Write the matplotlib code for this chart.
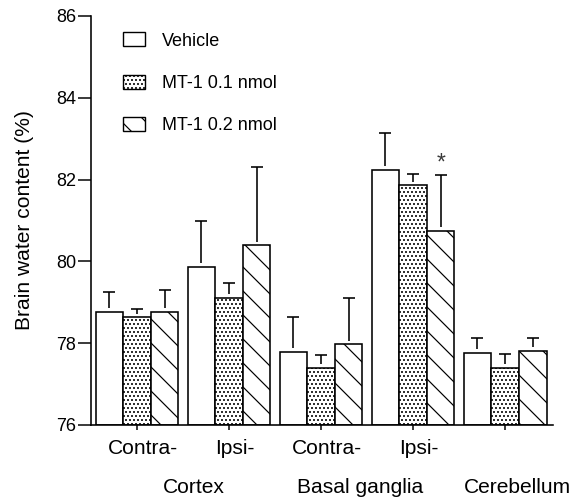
import numpy as np
import matplotlib.pyplot as plt
from matplotlib.patches import Patch
import matplotlib.transforms as mtransforms

plt.rcParams['font.family'] = ['Liberation Sans', 'DejaVu Sans']
plt.rcParams['hatch.linewidth'] = 1.2

regions = ["Contra-", "Ipsi-", "Contra-", "Ipsi-", ""]
structures = ["Cortex", "Basal ganglia", "Cerebellum"]
structure_pos = [0.62, 2.42, 4.13]
groups = ["Vehicle", "MT-1 0.1 nmol", "MT-1 0.2 nmol"]

vehicle = [78.76, 79.87, 77.79, 82.23, 77.77]
vehicle_sd = [0.48, 1.11, 0.84, 0.92, 0.35]
mt01 = [78.63, 79.11, 77.40, 81.86, 77.40]
mt01_sd = [0.20, 0.35, 0.31, 0.28, 0.34]
mt02 = [78.76, 80.39, 77.97, 80.74, 77.81]
mt02_sd = [0.54, 1.92, 1.14, 1.36, 0.31]
signif = [(3, 2)]  # (region, group) marked with *

hatches = ['', '...', '\\']
means = [vehicle, mt01, mt02]
sds = [vehicle_sd, mt01_sd, mt02_sd]

# dpi 72 so that point sizes equal pixels
fig = plt.figure(figsize=(579 / 72, 498 / 72), dpi=72)
ax = fig.add_axes([0.157, 0.1466, 0.798, 0.8214])

x = np.arange(len(vehicle))
w = 0.3
gap = 0.09   # small white gap between bar top and the SD line
cap = 0.065  # half cap width
for i in range(3):
    xi = x + (i - 1) * w
    m = np.array(means[i])
    top = m + np.array(sds[i])
    ax.bar(xi, m - 76, bottom=76, width=w, color='white',
           edgecolor='black', linewidth=1.6, hatch=hatches[i], label=groups[i], zorder=2)
    ax.vlines(xi, m + gap, top, color='black', linewidth=1.6, zorder=3)
    ax.hlines(top, xi - cap, xi + cap, color='black', linewidth=1.6, zorder=3)

for r, g in signif:
    ax.text(x[r] + (g - 1) * w, means[g][r] + sds[g][r] + 0.15, '*',
            ha='center', va='baseline', fontsize=23, color='#3a3a3a')

ax.set_xlim(-0.5, 4.52)
ax.set_ylim(76, 86)
ax.set_yticks(np.arange(76, 87, 2))
ax.set_xticks(x)
ax.set_xticklabels(regions, fontsize=21)
ax.tick_params(axis='y', labelsize=18, length=13, width=1.5, pad=2)
ax.tick_params(axis='x', length=5, width=1.5, pad=9)
shift = mtransforms.ScaledTranslation(6 / 72, 0, fig.dpi_scale_trans)
for lbl in ax.get_xticklabels():
    lbl.set_transform(lbl.get_transform() + shift)
for s in ['top', 'right']:
    ax.spines[s].set_visible(False)
for s in ['left', 'bottom']:
    ax.spines[s].set_linewidth(1.6)
ax.set_ylabel('Brain water content (%)', fontsize=21)
ax.yaxis.set_label_coords(-0.1234, 0.5)

trans = mtransforms.blended_transform_factory(ax.transData, ax.transAxes)
for name, pos in zip(structures, structure_pos):
    ax.text(pos, -0.166, name, transform=trans, ha='center', va='baseline', fontsize=21)

handles = [Patch(facecolor='white', edgecolor='black', linewidth=1.4, hatch=h) for h in hatches]
ax.legend(handles, groups, loc='upper left', bbox_to_anchor=(0.069, 0.96), frameon=False,
          fontsize=18, handlelength=1.22, handleheight=0.83, labelspacing=1.39,
          handletextpad=0.94, borderpad=0, borderaxespad=0)

fig.savefig('out.png', dpi=72)
